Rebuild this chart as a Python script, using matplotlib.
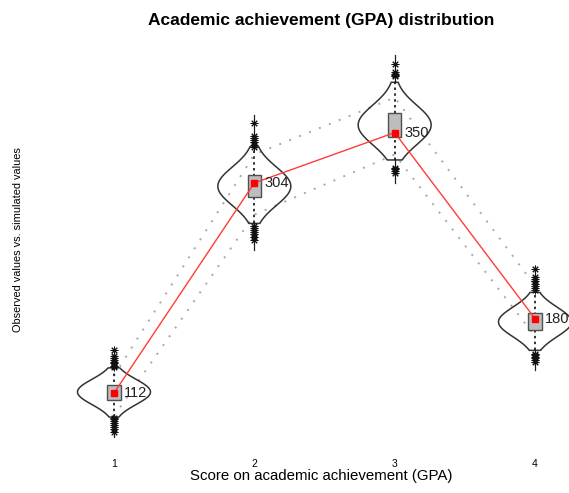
import numpy as np
import matplotlib.pyplot as plt

plt.rcParams['font.family'] = ['Liberation Sans', 'DejaVu Sans']

# GPA score categories and observed counts
scores = [1, 2, 3, 4]
observed = [112, 304, 350, 180]

# simulated counts: centre and spread of the replicated distribution
sim_center = [113, 301, 357, 177]
sim_sd = [11.5, 17.5, 18, 13.5]
# range covered by the violin body
body_lo = [90, 267, 325, 151]
body_hi = [135, 337, 396, 204]
# quartiles (box) and full range (whiskers)
sim_q1 = [106, 291, 346, 170]
sim_q3 = [119, 311, 368, 185]
sim_min = [72, 243, 304, 133]
sim_max = [153, 366, 421, 228]
# interval bounds joined across categories
band_lo = [91, 275, 330, 164]
band_hi = [128, 330, 382, 210]
# simulated values in the tails
tail_hi = [[136, 137, 139, 140, 142, 144, 146, 151],
           [337, 339, 341, 343, 345, 347, 359],
           [402, 403, 404, 405, 413],
           [206, 208, 210, 212, 214, 216, 218, 225]]
tail_lo = [[89, 88, 86, 85, 83, 81, 79, 76],
           [265, 263, 261, 259, 257, 255, 252],
           [318, 317, 315, 313],
           [148, 147, 145, 144, 142, 140]]

fig = plt.figure(figsize=(5.69, 4.93), dpi=100)
ax = fig.add_axes([0, 41 / 493, 1, 452 / 493])

# interval lines
ax.plot(scores, band_hi, color='#a8a8a8', lw=1.4, ls=(0, (1, 4.5)), zorder=1)
ax.plot(scores, band_lo, color='#a8a8a8', lw=1.4, ls=(0, (1, 4.5)), zorder=1)

# violins built from a normal density over each body range
stats = []
for c, s, lo, hi in zip(sim_center, sim_sd, body_lo, body_hi):
    coords = np.linspace(lo, hi, 200)
    vals = np.exp(-0.5 * ((coords - c) / s) ** 2)
    stats.append(dict(coords=coords, vals=vals, mean=c, median=c, min=lo, max=hi))
parts = ax.violin(stats, positions=scores, widths=0.52, showextrema=False,
                  showmeans=False, showmedians=False)
for body in parts['bodies']:
    body.set_facecolor('none')
    body.set_edgecolor('#333333')
    body.set_linewidth(1.1)
    body.set_alpha(1)
    body.set_zorder(2)

for i, x in enumerate(scores):
    # whiskers: solid outside the body, dotted inside
    ax.plot([x, x], [sim_min[i], body_lo[i]], color='#222222', lw=0.9, zorder=2)
    ax.plot([x, x], [body_hi[i], sim_max[i]], color='#222222', lw=0.9, zorder=2)
    ax.plot([x, x], [body_lo[i], body_hi[i]], color='#111111', lw=1.2,
            ls=(0, (1.5, 2)), zorder=2)
    tails = tail_hi[i] + tail_lo[i]
    ax.plot([x] * len(tails), tails, ls='none', marker=(8, 2, 0),
            markersize=5.5, color='#111111', mew=0.7, zorder=3)
    # interquartile box
    ax.add_patch(plt.Rectangle((x - 0.047, sim_q1[i]), 0.094,
                               sim_q3[i] - sim_q1[i], facecolor='#bdbdbd',
                               edgecolor='#505050', lw=1.0, zorder=4))

# observed values
ax.plot(scores, observed, color='#ff3b3b', lw=1.0, zorder=5)
ax.plot(scores, observed, ls='none', marker='s', markersize=5,
        color='#ff0000', zorder=6)
for x, v in zip(scores, observed):
    ax.annotate(str(v), (x, v), xytext=(7, 0), textcoords='offset points',
                va='center', ha='left', fontsize=10.5, color='#222222', zorder=7)

ax.set_xlim(0.1876, 4.2424)
ax.set_ylim(58.1, 471.2)
ax.set_xticks(scores)
ax.set_xticklabels([str(s) for s in scores], fontsize=7.5)
ax.tick_params(axis='x', length=0, pad=5)
ax.set_yticks([])
for sp in ax.spines.values():
    sp.set_visible(False)

fig.text(321 / 569, 1 - 21 / 493, 'Academic achievement (GPA) distribution',
         ha='center', va='center', fontsize=12.5, fontweight='bold')
fig.text(321 / 569, 1 - 476 / 493, 'Score on academic achievement (GPA)',
         ha='center', va='center', fontsize=10.8)
fig.text(18 / 569, 1 - 240 / 493, 'Observed values vs. simulated values',
         ha='center', va='center', rotation=90, fontsize=7.9)

fig.savefig('out.png', dpi=100)
